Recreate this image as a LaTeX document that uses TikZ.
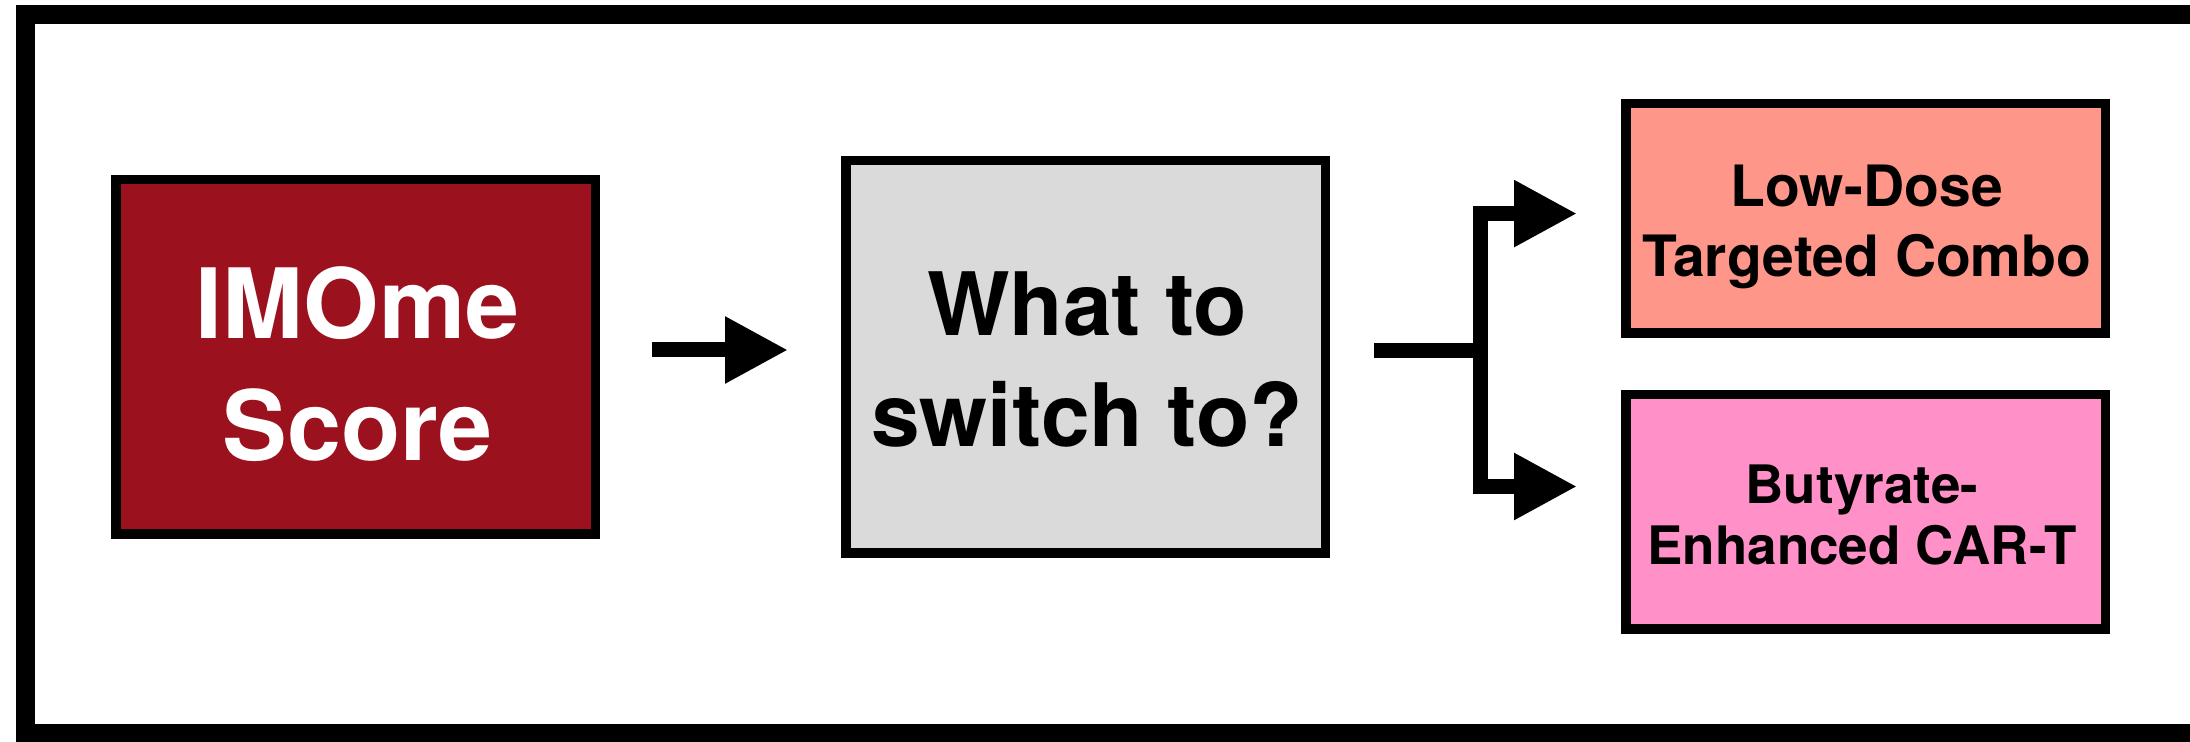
\documentclass[tikz,border=0pt]{standalone}
\usepackage{fontspec}
\setmainfont{TeX Gyre Heros}
\usetikzlibrary{arrows.meta}
\definecolor{imred}{RGB}{155,17,30}
\definecolor{qgray}{RGB}{218,218,218}
\definecolor{salmonbox}{RGB}{255,150,138}
\definecolor{pinkbox}{RGB}{255,145,200}
\begin{document}
\begin{tikzpicture}[x=0.5pt,y=-0.5pt,
  box/.style={draw=black, line width=4.75pt, rectangle, inner sep=0pt, minimum width=239.75pt},
  txt/.style={inner sep=0pt, align=center},
  conn/.style={line width=7.5pt, line join=miter},
  arr/.style={conn, -{Triangle[length=31.5pt,width=31.5pt]}}]
\useasboundingbox (0,0) rectangle (2190,742);
\draw[line width=9.5pt] (25.5,14.5) rectangle (2240,733.5);
% boxes
\node[box, fill=imred, minimum height=177.25pt] (imome) at (355.5,357) {};
\node[box, fill=qgray, minimum height=196.25pt] (gray) at (1085.5,357) {};
\node[box, fill=salmonbox, minimum height=114.75pt] (low) at (1865.5,218.5) {};
\node[box, fill=pinkbox, minimum height=117.25pt] (but) at (1865.5,512) {};
% texts
\node[txt, text=white, font=\bfseries\fontsize{48.5}{61}\selectfont] (imomeT) at (357.5,364) {IMOme\\Score};
\node[txt, font=\bfseries\fontsize{43.75}{55.5}\selectfont] (grayT) at (1087,360) {What to\\switch to?};
\node[txt, font=\bfseries\fontsize{28.5}{35}\selectfont] (lowT) at (1867,227) {Low-Dose\\Targeted Combo};
\node[txt, font=\bfseries\fontsize{26.5}{30.5}\selectfont] (butT) at (1862,515) {Butyrate-\\Enhanced CAR-T};
% connectors
\coordinate (y1) at (0,350);
\draw[arr, shorten <=26.2pt, shorten >=26.5pt] (imome.east |- y1) -- (gray.west |- y1);
\coordinate (split) at (1480,350.8);
\coordinate (ya) at (0,213.6);
\coordinate (yb) at (0,486.5);
\draw[conn, shorten <=21.9pt] (gray.east |- split) -- (split);
\draw[arr, shorten >=22pt] (split) |- (low.west |- ya);
\draw[arr, shorten >=22pt] (split) |- (but.west |- yb);
\end{tikzpicture}
\end{document}
